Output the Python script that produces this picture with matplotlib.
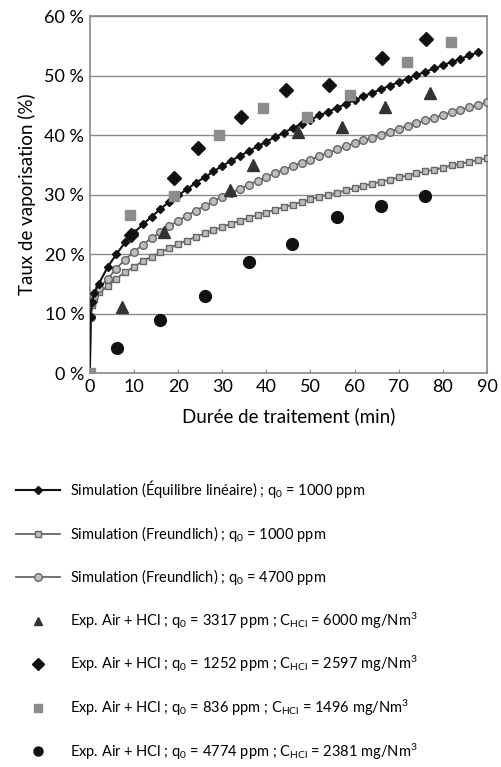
import matplotlib.pyplot as plt
from matplotlib.lines import Line2D
from matplotlib.ticker import FuncFormatter

plt.rcParams['font.family'] = ['Lato', 'DejaVu Sans']
plt.rcParams['mathtext.fontset'] = 'custom'
plt.rcParams['mathtext.rm'] = 'Lato'
plt.rcParams['mathtext.it'] = 'Lato'

# Simulation curves (time in min, vaporisation in %)
t_lin = [0, 0.2, 0.5, 1, 2, 4, 6, 8, 10, 12, 14, 16, 18, 20, 22, 24, 26, 28, 30,
         32, 34, 36, 38, 40, 42, 44, 46, 48, 50, 52, 54, 56, 58, 60, 62, 64, 66,
         68, 70, 72, 74, 76, 78, 80, 82, 84, 86, 88]
y_lin = [0, 9.5, 12.0, 13.5, 15.0, 17.8, 20.0, 22.0, 23.6, 25.0, 26.3, 27.6,
         28.8, 29.9, 30.9, 32.0, 32.9, 33.9, 34.8, 35.7, 36.5, 37.3, 38.1, 38.9,
         39.7, 40.4, 41.2, 41.9, 42.6, 43.3, 43.9, 44.6, 45.2, 45.9, 46.5, 47.1,
         47.7, 48.3, 48.9, 49.5, 50.1, 50.6, 51.2, 51.7, 52.3, 52.8, 53.4, 53.9]

t_fr = [0, 0.2, 0.5, 1, 2, 4, 6, 8, 10, 12, 14, 16, 18, 20, 22, 24, 26, 28, 30,
        32, 34, 36, 38, 40, 42, 44, 46, 48, 50, 52, 54, 56, 58, 60, 62, 64, 66,
        68, 70, 72, 74, 76, 78, 80, 82, 84, 86, 88, 90]
y_fr_4700 = [0, 9.5, 12.0, 13.0, 14.3, 15.8, 17.6, 19.1, 20.4, 21.6, 22.7, 23.7,
             24.7, 25.6, 26.5, 27.3, 28.1, 28.9, 29.6, 30.3, 31.0, 31.7, 32.3,
             33.0, 33.6, 34.2, 34.8, 35.4, 35.9, 36.5, 37.0, 37.6, 38.1, 38.6,
             39.1, 39.6, 40.1, 40.6, 41.1, 41.5, 42.0, 42.5, 42.9, 43.4, 43.8,
             44.2, 44.7, 45.1, 45.5]
y_fr_1000 = [0, 9.5, 11.5, 12.5, 13.6, 14.6, 15.9, 17.0, 17.9, 18.8, 19.6, 20.3,
             21.0, 21.7, 22.3, 22.9, 23.5, 24.0, 24.6, 25.1, 25.6, 26.1, 26.6,
             27.0, 27.5, 27.9, 28.3, 28.8, 29.2, 29.6, 30.0, 30.3, 30.7, 31.1,
             31.5, 31.8, 32.2, 32.5, 32.9, 33.2, 33.6, 33.9, 34.2, 34.5, 34.9,
             35.2, 35.5, 35.8, 36.1]

# Experimental points
t_tri = [7.3, 16.8, 31.7, 37.0, 47.1, 57.1, 66.8, 77.1]
y_tri = [11.1, 23.7, 30.8, 34.9, 40.5, 41.4, 44.8, 47.0]
t_dia = [9.3, 19.0, 24.4, 34.2, 44.4, 54.1, 66.2, 76.1]
y_dia = [23.2, 32.8, 37.8, 43.0, 47.6, 48.5, 52.9, 56.1]
t_sq = [0, 9.2, 19.0, 29.3, 39.2, 49.3, 59.0, 71.9, 81.9]
y_sq = [0, 26.6, 29.7, 40.0, 44.5, 43.1, 46.8, 52.2, 55.6]
t_circ = [6.2, 16.0, 26.1, 36.1, 45.9, 56.1, 66.0, 75.9]
y_circ = [4.2, 9.0, 13.0, 18.7, 21.7, 26.3, 28.1, 29.7]

labels = [
    'Simulation (Équilibre linéaire) ; q$_0$ = 1000 ppm',
    'Simulation (Freundlich) ; q$_0$ = 1000 ppm',
    'Simulation (Freundlich) ; q$_0$ = 4700 ppm',
    'Exp. Air + HCl ; q$_0$ = 3317 ppm ; C$_{\\mathrm{HCl}}$ = 6000 mg/Nm$^3$',
    'Exp. Air + HCl ; q$_0$ = 1252 ppm ; C$_{\\mathrm{HCl}}$ = 2597 mg/Nm$^3$',
    'Exp. Air + HCl ; q$_0$ = 836 ppm ; C$_{\\mathrm{HCl}}$ = 1496 mg/Nm$^3$',
    'Exp. Air + HCl ; q$_0$ = 4774 ppm ; C$_{\\mathrm{HCl}}$ = 2381 mg/Nm$^3$',
]

fig = plt.figure(figsize=(5.02, 7.67), dpi=100)
ax = fig.add_axes([0.179, 0.5133, 0.791, 0.4658])

grey = '#666666'
fill = '#bdbdbd'
ax.plot(t_fr, y_fr_1000, color=grey, lw=1.3, marker='s', ms=5,
        mfc=fill, mec=grey, mew=1.0, zorder=3)
ax.plot(t_fr, y_fr_4700, color=grey, lw=1.3, marker='o', ms=5.5,
        mfc=fill, mec=grey, mew=1.0, zorder=3)
ax.plot(t_lin, y_lin, color='#111111', lw=1.5, marker='D', ms=4.5,
        mfc='#111111', mec='#111111', zorder=4)

ax.plot(t_tri, y_tri, ls='none', marker='^', ms=8, color='#333333', zorder=5)
ax.plot(t_dia, y_dia, ls='none', marker='D', ms=7.5, color='#111111', zorder=5)
ax.plot(t_sq, y_sq, ls='none', marker='s', ms=7, color='#8c8c8c', zorder=5)
ax.plot(t_circ, y_circ, ls='none', marker='o', ms=8.5, color='#111111', zorder=5)

ax.set_xlim(0, 90)
ax.set_ylim(0, 60)
ax.set_xticks(range(0, 91, 10))
ax.set_yticks(range(0, 61, 10))
ax.yaxis.set_major_formatter(FuncFormatter(lambda v, p: f'{int(v)} %'))
ax.grid(axis='y', color='#8a8a8a', lw=1.0)
ax.set_axisbelow(True)
for s in ax.spines.values():
    s.set_color('#8a8a8a')
    s.set_linewidth(1.2)
ax.tick_params(axis='x', direction='in', length=3, color='#8a8a8a',
               labelsize=13, pad=4)
ax.tick_params(axis='y', length=0, labelsize=13, pad=4)
ax.set_xlabel('Durée de traitement (min)', fontsize=13.5, labelpad=9)
ax.set_ylabel('Taux de vaporisation (%)', fontsize=13.5, labelpad=6)

handles = [
    Line2D([], [], color='#111111', lw=1.5, marker='D', ms=4.5),
    Line2D([], [], color=grey, lw=1.3, marker='s', ms=5, mfc=fill, mec=grey),
    Line2D([], [], color=grey, lw=1.3, marker='o', ms=5.5, mfc=fill, mec=grey),
    Line2D([], [], ls='none', marker='^', ms=6, color='#333333'),
    Line2D([], [], ls='none', marker='D', ms=6, color='#111111'),
    Line2D([], [], ls='none', marker='s', ms=5.5, color='#8c8c8c'),
    Line2D([], [], ls='none', marker='o', ms=6.5, color='#111111'),
]
fig.legend(handles, labels, loc='upper left', bbox_to_anchor=(0.02, 0.384),
           frameon=False, fontsize=10.5, labelspacing=1.6, handlelength=3.0,
           handletextpad=0.7, borderaxespad=0)

fig.savefig('out.png', dpi=100)
